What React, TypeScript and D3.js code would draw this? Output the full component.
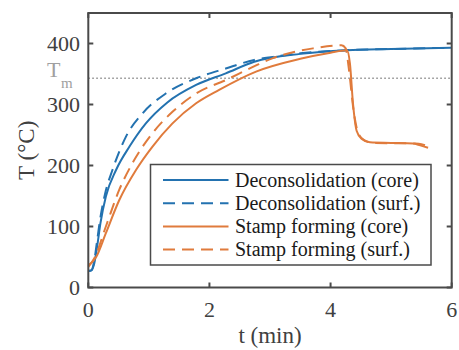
import React from "react";
import * as d3 from "d3";

const deconCoreT = [0, 0.05, 0.1, 0.15, 0.2, 0.29, 0.46, 0.68, 0.95, 1.3, 1.78, 2.27, 2.74, 3.5, 4.27, 5.0, 6.0];
const deconCoreV = [27, 28, 40, 70, 105, 149, 193, 231, 269, 303, 332, 351, 370, 383, 389, 391, 393];

const deconSurfT = [0, 0.05, 0.1, 0.15, 0.2, 0.28, 0.4, 0.62, 0.9, 1.28, 1.78, 2.27, 2.74, 3.05, 3.5, 4.27, 5.0, 6.0];
const deconSurfV = [27, 28, 45, 80, 115, 155, 193, 247, 286, 318, 343, 359, 373, 378, 384, 389, 391, 393];

const stampCoreT = [0, 0.13, 0.29, 0.51, 0.79, 1.06, 1.39, 1.78, 2.16, 2.77, 3.5, 4.0, 4.27, 4.32, 4.37, 4.43, 4.51, 4.65, 5.0, 5.36, 5.48, 5.61];
const stampCoreV = [36, 50, 89, 143, 193, 231, 269, 302, 324, 354, 375, 385, 389, 367, 302, 257, 244, 238, 237, 236, 233, 229];

const stampSurfT = [0, 0.1, 0.29, 0.51, 0.73, 1.06, 1.39, 1.78, 2.27, 2.77, 3.05, 3.71, 4.18, 4.25, 4.3, 4.38, 4.45, 4.55, 4.7, 5.4, 5.5, 5.63];
const stampSurfV = [34, 48, 100, 160, 204, 253, 288, 318, 340, 364, 376, 392, 397, 392, 360, 290, 255, 242, 237, 236, 235, 230];

const xTicks = [0, 2, 4, 6];
const yTicks = [0, 100, 200, 300, 400];
const meltTemp = 343;

const seriesNames = [
  "Deconsolidation (core)",
  "Deconsolidation (surf.)",
  "Stamp forming (core)",
  "Stamp forming (surf.)",
];

const BLUE = "#2372b0";
const ORANGE = "#e07b3c";
const AXIS = "#4a4a4a";
const FONT = "'Liberation Serif', 'DejaVu Serif', serif";

export default function App() {
  const W = 459, H = 350;
  const left = 88.3, right = 451.7, top = 13, bottom = 287.5;
  const x = d3.scaleLinear().domain([0, 6]).range([left, right]);
  const y = d3.scaleLinear().domain([0, 450]).range([bottom, top]);
  const line = d3
    .line<[number, number]>()
    .x((d) => x(d[0]))
    .y((d) => y(d[1]))
    .curve(d3.curveMonotoneX);

  const zip = (t: number[], v: number[]) => t.map((ti, i) => [ti, v[i]] as [number, number]);
  const series = [
    { data: zip(deconCoreT, deconCoreV), color: BLUE, dash: undefined as string | undefined },
    { data: zip(deconSurfT, deconSurfV), color: BLUE, dash: "12,7" },
    { data: zip(stampCoreT, stampCoreV), color: ORANGE, dash: undefined },
    { data: zip(stampSurfT, stampSurfV), color: ORANGE, dash: "12,7" },
  ];

  const tickLen = 5;
  const lgX = 150.5, lgY = 164.5, lgW = 280.5, lgH = 100.5;
  const rowY = [180, 203.3, 226.6, 249.6];
  const ts: React.CSSProperties = { fontFamily: FONT };

  return (
    <svg width={W} height={H} style={{ position: "absolute", left: 0, top: 0, background: "#fff", fontFamily: FONT }}>
      <rect x={0} y={0} width={W} height={H} fill="#fff" />
      <line x1={left} x2={right} y1={y(meltTemp)} y2={y(meltTemp)} stroke="#8c8c8c" strokeWidth={1.5} strokeDasharray="1.5,2.5" />
      <text x={47} y={77} fontSize={22} fill="#a0a0a0" style={ts}>T</text>
      <text x={61} y={88} fontSize={15} fill="#a0a0a0" style={ts}>m</text>

      {series.map((s, i) => (
        <path key={i} d={line(s.data) || ""} fill="none" stroke={s.color} strokeWidth={2} strokeDasharray={s.dash} />
      ))}

      <rect x={left} y={top} width={right - left} height={bottom - top} fill="none" stroke={AXIS} strokeWidth={2} />
      {xTicks.map((t) => (
        <g key={"x" + t}>
          <line x1={x(t)} x2={x(t)} y1={bottom} y2={bottom - tickLen} stroke={AXIS} strokeWidth={2} />
          <line x1={x(t)} x2={x(t)} y1={top} y2={top + tickLen} stroke={AXIS} strokeWidth={2} />
          <text x={x(t)} y={317} fontSize={22} fill="#404040" textAnchor="middle" style={ts}>{t}</text>
        </g>
      ))}
      {yTicks.map((t) => (
        <g key={"y" + t}>
          <line x1={left} x2={left + tickLen} y1={y(t)} y2={y(t)} stroke={AXIS} strokeWidth={2} />
          <line x1={right} x2={right - tickLen} y1={y(t)} y2={y(t)} stroke={AXIS} strokeWidth={2} />
          <text x={80} y={y(t) + 7.5} fontSize={22} fill="#404040" textAnchor="end" style={ts}>{t}</text>
        </g>
      ))}
      <text x={(left + right) / 2} y={343} fontSize={23} fill="#404040" textAnchor="middle" style={ts}>t (min)</text>
      <text transform={`translate(33.5,${(top + bottom) / 2}) rotate(-90)`} fontSize={23} fill="#404040" textAnchor="middle" style={ts}>T (°C)</text>

      <rect x={lgX} y={lgY} width={lgW} height={lgH} fill="#fff" stroke={AXIS} strokeWidth={1.5} />
      {series.map((s, i) => (
        <g key={"lg" + i}>
          <line x1={163} x2={228.5} y1={rowY[i]} y2={rowY[i]} stroke={s.color} strokeWidth={2} strokeDasharray={s.dash} />
          <text x={235} y={rowY[i] + 6.5} fontSize={20} fill="#1a1a1a" style={ts}>{seriesNames[i]}</text>
        </g>
      ))}
    </svg>
  );
}
